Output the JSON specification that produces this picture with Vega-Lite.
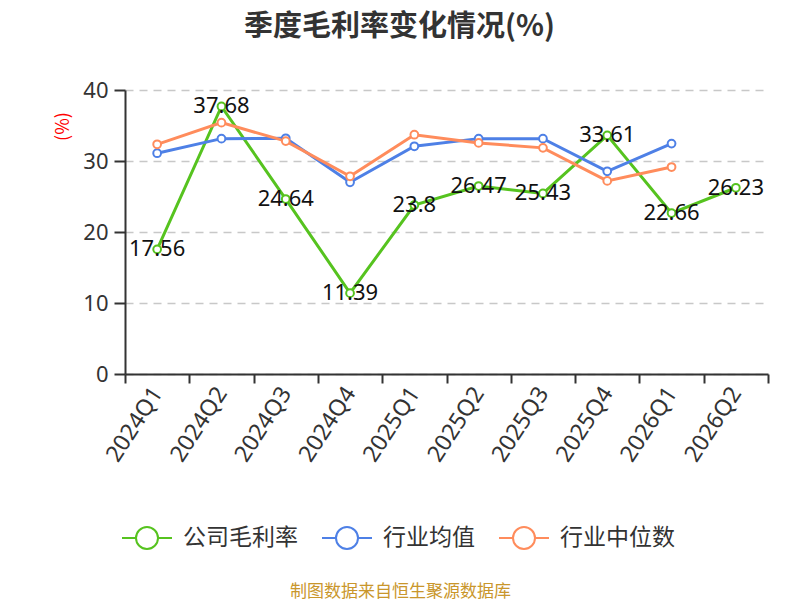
{
  "$schema": "https://vega.github.io/schema/vega-lite/v6.json",
  "autosize": "none",
  "width": 643,
  "height": 284,
  "padding": {"left": 125, "top": 90, "right": 32, "bottom": 226},
  "background": "white",
  "config": {
    "font": "'Noto Sans', 'Noto Sans CJK SC'",
    "view": {"stroke": null}
  },
  "title": {
    "text": "季度毛利率变化情况(%)",
    "font": "Noto Sans CJK SC",
    "fontSize": 29,
    "fontWeight": "bold",
    "color": "#333333",
    "anchor": "middle",
    "dx": -47,
    "offset": 37
  },
  "data": {
    "values": [
      {"q": "2024Q1", "s": "公司毛利率", "v": 17.56},
      {"q": "2024Q2", "s": "公司毛利率", "v": 37.68},
      {"q": "2024Q3", "s": "公司毛利率", "v": 24.64},
      {"q": "2024Q4", "s": "公司毛利率", "v": 11.39},
      {"q": "2025Q1", "s": "公司毛利率", "v": 23.8},
      {"q": "2025Q2", "s": "公司毛利率", "v": 26.47},
      {"q": "2025Q3", "s": "公司毛利率", "v": 25.43},
      {"q": "2025Q4", "s": "公司毛利率", "v": 33.61},
      {"q": "2026Q1", "s": "公司毛利率", "v": 22.66},
      {"q": "2026Q2", "s": "公司毛利率", "v": 26.23},
      {"q": "2024Q1", "s": "行业均值", "v": 31.1},
      {"q": "2024Q2", "s": "行业均值", "v": 33.15},
      {"q": "2024Q3", "s": "行业均值", "v": 33.2},
      {"q": "2024Q4", "s": "行业均值", "v": 27.0},
      {"q": "2025Q1", "s": "行业均值", "v": 32.07},
      {"q": "2025Q2", "s": "行业均值", "v": 33.15},
      {"q": "2025Q3", "s": "行业均值", "v": 33.15},
      {"q": "2025Q4", "s": "行业均值", "v": 28.55},
      {"q": "2026Q1", "s": "行业均值", "v": 32.45},
      {"q": "2024Q1", "s": "行业中位数", "v": 32.35},
      {"q": "2024Q2", "s": "行业中位数", "v": 35.4},
      {"q": "2024Q3", "s": "行业中位数", "v": 32.8},
      {"q": "2024Q4", "s": "行业中位数", "v": 27.85},
      {"q": "2025Q1", "s": "行业中位数", "v": 33.7},
      {"q": "2025Q2", "s": "行业中位数", "v": 32.55},
      {"q": "2025Q3", "s": "行业中位数", "v": 31.85},
      {"q": "2025Q4", "s": "行业中位数", "v": 27.2},
      {"q": "2026Q1", "s": "行业中位数", "v": 29.15}
    ]
  },
  "encoding": {
    "x": {
      "field": "q",
      "type": "ordinal",
      "scale": {"type": "band", "paddingInner": 0, "paddingOuter": 0},
      "axis": {
        "title": "制图数据来自恒生聚源数据库",
        "titleColor": "#c9962b",
        "titleFont": "Noto Sans CJK SC",
        "titleFontSize": 17,
        "titleFontWeight": "normal",
        "titleX": 275,
        "titleY": 217,
        "titleBaseline": "middle",
        "titleAlign": "center",
        "labelAngle": -57,
        "labelFontSize": 23,
        "labelColor": "#333333",
        "labelPadding": 6,
        "tickBand": "extent",
        "tickSize": 9,
        "tickWidth": 2,
        "tickColor": "#333333",
        "domainColor": "#333333",
        "domainWidth": 2,
        "grid": false
      }
    },
    "y": {
      "field": "v",
      "type": "quantitative",
      "scale": {"domain": [0, 40]},
      "axis": {
        "values": [0, 10, 20, 30, 40],
        "title": "(%)",
        "titleFont": "Noto Sans CJK SC",
        "titleColor": "#ff0000",
        "titleFontSize": 18,
        "titleFontWeight": "normal",
        "titleX": -62,
        "titleY": 36,
        "titleAlign": "center",
        "titleBaseline": "middle",
        "labelFontSize": 22,
        "labelColor": "#333333",
        "labelPadding": 6,
        "tickSize": 11,
        "tickWidth": 2,
        "tickColor": "#333333",
        "domainColor": "#333333",
        "domainWidth": 2,
        "grid": true,
        "gridColor": "#c8c8c8",
        "gridDash": [8, 6],
        "gridWidth": 1.5
      }
    },
    "color": {
      "field": "s",
      "type": "nominal",
      "scale": {
        "domain": ["公司毛利率", "行业均值", "行业中位数"],
        "range": ["#56c31f", "#4e80e6", "#ff8c5c"]
      },
      "legend": {
        "title": null,
        "orient": "none",
        "direction": "horizontal",
        "legendX": -4,
        "legendY": 422,
        "symbolType": "M-1,0L-0.44,0M0.44,0L1,0M0.44,0A0.44,0.44,0,1,1,-0.44,0A0.44,0.44,0,1,1,0.44,0Z",
        "symbolSize": 2500,
        "symbolStrokeWidth": 2,
        "symbolFillColor": "white",
        "labelFont": "Noto Sans CJK SC",
        "labelFontSize": 23,
        "labelColor": "#333333",
        "labelOffset": 10,
        "columnPadding": 20,
        "encode": {
          "symbols": {"update": {"fill": {"value": "white"}, "strokeWidth": {"value": 2}}}
        }
      }
    }
  },
  "layer": [
    {
      "mark": {"type": "line", "strokeWidth": 3},
      "encoding": {}
    },
    {
      "mark": {"type": "point", "filled": false, "fill": "white", "fillOpacity": 1, "opacity": 1, "size": 60, "strokeWidth": 2},
      "encoding": {}
    },
    {
      "transform": [{"filter": "datum.s === '公司毛利率'"}],
      "mark": {"type": "text", "fontSize": 22, "baseline": "middle", "align": "center"},
      "encoding": {
        "text": {"field": "v", "type": "quantitative"},
        "color": {"value": "#111111"}
      }
    }
  ]
}
